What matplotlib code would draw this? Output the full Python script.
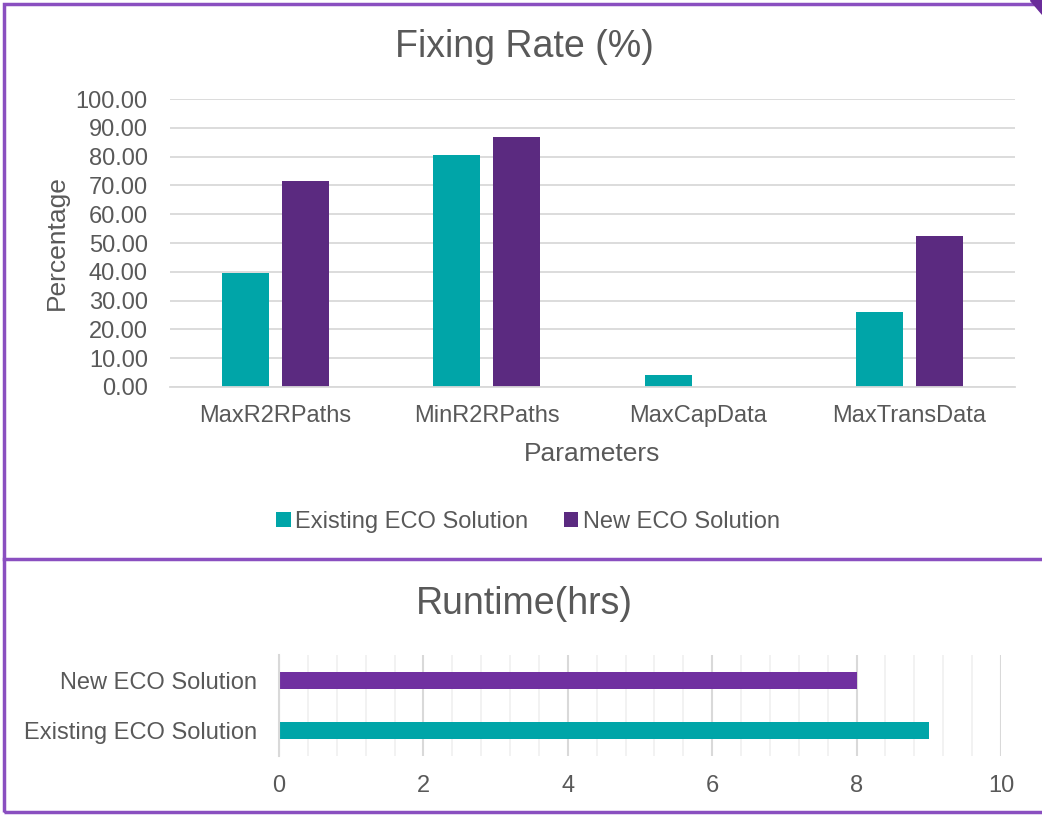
import numpy as np
import matplotlib.pyplot as plt
from matplotlib.patches import Rectangle, Polygon
from matplotlib.lines import Line2D
from matplotlib.ticker import MultipleLocator

plt.rcParams['font.family'] = ['Liberation Sans', 'DejaVu Sans']

params = ["MaxR2RPaths", "MinR2RPaths", "MaxCapData", "MaxTransData"]
existing_rate = [39.6, 80.7, 4.3, 26.0]
new_rate = [71.6, 86.8, 0.0, 52.5]

solutions = ["Existing ECO Solution", "New ECO Solution"]
runtime_hrs = [9, 8]

teal = "#00A5A8"
purple = "#5B2A80"
purple_bar = "#7030A0"
border = "#8A4FC0"
txt = "#595959"
grid = "#D9D9D9"

W, H = 1042, 815
fig = plt.figure(figsize=(W / 100, H / 100), dpi=100)


def px_axes(x0, y0, x1, y1):
    # pixel box (top-left origin) -> figure axes
    return fig.add_axes([x0 / W, 1 - y1 / H, (x1 - x0) / W, (y1 - y0) / H])


# --- fixing rate column chart ---
ax = px_axes(170, 99, 1015, 387)
x = np.arange(len(params))
bw = 0.223
ax.bar(x - 0.142, existing_rate, bw, color=teal, label=solutions[0])
ax.bar(x + 0.142, new_rate, bw, color=purple, label=solutions[1])
ax.set_xlim(-0.5, len(params) - 0.5)
ax.set_ylim(0, 100)
ax.set_yticks(np.arange(0, 101, 10))
ax.set_yticklabels([f"{v:.2f}" for v in np.arange(0, 101, 10)])
ax.set_xticks(x)
ax.set_xticklabels(params)
ax.grid(axis='y', color=grid, linewidth=1.3)
ax.set_axisbelow(True)
for s in ["top", "right", "left"]:
    ax.spines[s].set_visible(False)
ax.spines["bottom"].set_color(grid)
ax.spines["bottom"].set_linewidth(1.3)
ax.tick_params(length=0, labelsize=17, labelcolor=txt)
ax.tick_params(axis='x', pad=13)
ax.tick_params(axis='y', pad=16)
ax.set_xlabel("Parameters", fontsize=19, color=txt, labelpad=11)
ax.set_ylabel("Percentage", fontsize=19, color=txt, labelpad=5)
fig.text(524 / W, 1 - 47 / H, "Fixing Rate (%)", fontsize=27, color=txt,
         ha='center', va='center')
ax.legend(loc='center', bbox_to_anchor=((528 - 170) / 845, 1 - (522 - 99) / 288),
          ncol=2, frameon=False, fontsize=17, labelcolor=txt, handlelength=0.6,
          handleheight=0.6, handletextpad=0.2, columnspacing=1.5)

# --- runtime bar chart ---
ax2 = px_axes(279, 655, 1001, 756)
y = np.arange(len(solutions))
ax2.barh(y, runtime_hrs, 0.34, color=[teal, purple_bar])
ax2.set_xlim(0, 10)
ax2.set_ylim(-0.5, 1.5)
ax2.set_yticks(y)
ax2.set_yticklabels(solutions)
ax2.xaxis.set_major_locator(MultipleLocator(2))
ax2.xaxis.set_minor_locator(MultipleLocator(0.4))
ax2.grid(axis='x', which='major', color=grid, linewidth=1.5)
ax2.grid(axis='x', which='minor', color="#F0F0F0", linewidth=1.2)
ax2.set_axisbelow(True)
for s in ["top", "right", "bottom"]:
    ax2.spines[s].set_visible(False)
ax2.spines["left"].set_color(grid)
ax2.spines["left"].set_linewidth(1.5)
ax2.tick_params(which='both', length=0, labelsize=17, labelcolor=txt)
ax2.tick_params(axis='x', pad=14)
ax2.tick_params(axis='y', pad=16)
fig.text(524 / W, 1 - 604 / H, "Runtime(hrs)", fontsize=27, color=txt,
         ha='center', va='center')

# panel outlines
fig.add_artist(Rectangle((4 / W, 1 - 812 / H), 1.2, (812 - 4) / H,
                         transform=fig.transFigure, fill=False,
                         edgecolor=border, linewidth=2.5))
fig.add_artist(Line2D([4 / W, 1], [1 - 559 / H] * 2, transform=fig.transFigure,
                      color=border, linewidth=2.5))
fig.add_artist(Polygon([(1030 / W, 1), (1, 1), (1, 1 - 14 / H)],
                       transform=fig.transFigure, color="#6A2C9A"))

fig.savefig("out.png", dpi=100)
